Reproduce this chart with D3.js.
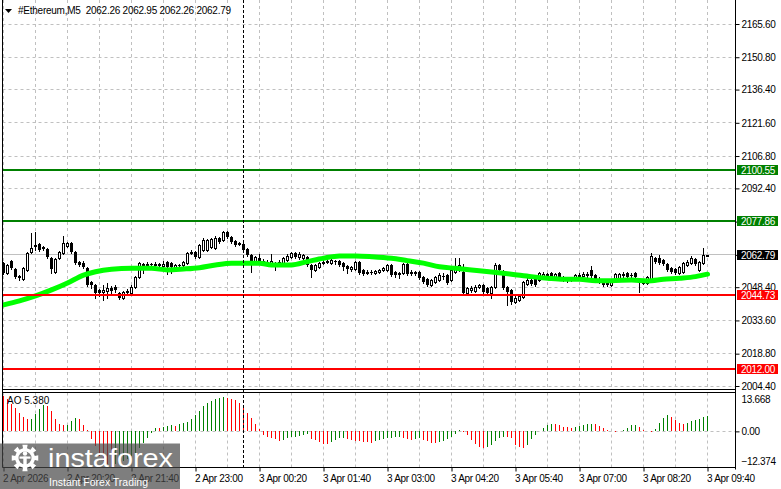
<!DOCTYPE html>
<html><head><meta charset="utf-8">
<script src="https://cdn.jsdelivr.net/npm/d3@7"></script>
<style>
html,body{margin:0;padding:0;background:#fff;overflow:hidden}
svg{display:block}
text{font-family:Tahoma,"Liberation Sans",Arial,sans-serif}
</style></head><body>
<svg id="c" width="781" height="489"></svg>
<script>
// ---------------- DATA ----------------
const symbolTitle = "#Ethereum,M5";
const headerOHLC = [2062.26, 2062.95, 2062.26, 2062.79];

const opens = [2059.2,2054.7,2060.1,2056.5,2053.4,2052.1,2056.1,2064.1,2067.2,2067.6,2066.3,2065.4,2061.4,2055.2,2061.4,2063.6,2066.7,2068.1,2064.1,2059.6,
2059.2,2057.0,2050.7,2049.4,2047.2,2046.3,2046.7,2048.1,2048.5,2045.8,2043.6,2046.3,2045.8,2048.5,2052.9,2058.3,2058.3,2058.7,2058.3,2058.7,
2057.9,2059.6,2059.2,2057.4,2058.3,2058.3,2059.2,2063.6,2064.1,2061.9,2065.0,2065.0,2066.3,2065.9,2070.3,2069.4,2073.0,2070.8,2069.0,2067.6,
2067.6,2065.4,2062.7,2059.6,2061.4,2060.1,2059.6,2059.2,2059.2,2059.2,2059.2,2060.5,2061.9,2063.6,2061.9,2061.4,2061.9,2058.3,2056.1,2057.4,
2059.2,2059.6,2059.2,2060.1,2060.1,2059.2,2057.9,2056.5,2056.5,2059.6,2056.1,2054.7,2055.2,2054.7,2055.2,2056.1,2056.1,2058.3,2055.2,2054.3,
2054.7,2058.7,2054.7,2055.2,2055.2,2052.9,2052.1,2049.4,2050.7,2051.6,2053.4,2053.8,2051.6,2055.2,2056.1,2055.2,2045.8,2047.2,2046.7,2048.5,
2049.4,2048.1,2045.8,2048.5,2058.3,2055.2,2048.5,2047.2,2041.8,2042.7,2044.0,2049.8,2051.6,2052.5,2051.6,2053.4,2054.3,2054.7,2052.9,2054.7,
2052.9,2051.6,2052.1,2052.5,2053.4,2053.4,2054.3,2056.1,2053.8,2051.6,2050.7,2049.8,2049.4,2052.1,2052.5,2053.8,2054.7,2053.8,2054.7,2051.6,
2050.3,2050.3,2051.6,2061.4,2061.4,2060.5,2058.7,2057.0,2056.5,2054.7,2055.2,2058.3,2059.2,2061.0,2056.1,2059.2,2062.26];

const highs = [2059.6,2058.7,2060.5,2057.0,2053.8,2057.4,2064.1,2072.5,2073.0,2068.1,2066.7,2065.9,2061.9,2061.4,2064.5,2071.2,2068.5,2068.5,2064.5,2060.1,
2060.1,2057.4,2051.2,2049.8,2047.6,2049.4,2050.3,2048.9,2049.4,2046.3,2046.7,2047.6,2049.4,2053.4,2059.6,2059.2,2059.6,2059.2,2059.6,2059.2,
2060.1,2060.1,2059.6,2058.7,2058.7,2060.1,2064.1,2065.0,2064.5,2067.6,2070.3,2069.9,2070.3,2071.2,2070.8,2073.4,2073.4,2071.2,2069.4,2068.5,
2068.5,2065.9,2063.2,2062.3,2063.2,2061.0,2060.5,2063.2,2059.6,2060.5,2061.9,2063.2,2064.1,2064.1,2064.1,2063.2,2062.3,2058.7,2058.7,2059.6,
2060.5,2061.0,2061.0,2060.5,2060.5,2059.6,2058.3,2057.9,2060.1,2060.1,2056.5,2056.1,2056.1,2056.1,2056.5,2057.4,2058.7,2058.7,2055.6,2055.2,
2059.2,2059.2,2056.1,2055.6,2055.6,2053.4,2052.5,2052.1,2053.4,2054.7,2054.7,2054.3,2056.5,2061.4,2061.4,2058.7,2048.5,2048.9,2049.4,2049.8,
2049.8,2048.5,2049.0,2059.2,2058.7,2056.1,2048.9,2047.6,2044.5,2045.4,2051.2,2052.5,2052.1,2052.9,2055.2,2055.2,2054.7,2055.2,2054.7,2055.2,
2053.4,2052.9,2052.9,2054.3,2054.7,2055.2,2055.2,2057.9,2054.3,2052.9,2051.2,2051.2,2051.2,2054.7,2054.7,2055.2,2055.2,2054.7,2055.2,2052.5,
2051.6,2053.4,2063.6,2061.9,2062.7,2061.0,2059.2,2057.4,2057.0,2057.9,2059.6,2060.5,2062.3,2061.4,2060.1,2065.9,2062.95];

const lows = [2054.3,2054.3,2056.5,2052.5,2051.6,2051.6,2055.6,2063.6,2065.0,2064.5,2065.0,2061.4,2054.7,2054.7,2061.0,2063.2,2066.3,2063.6,2058.7,2057.9,
2057.0,2048.9,2048.1,2043.6,2044.5,2042.7,2043.6,2044.9,2046.3,2043.2,2043.2,2045.8,2045.4,2048.1,2052.5,2054.7,2057.4,2057.4,2057.9,2057.0,
2057.0,2054.3,2054.7,2057.0,2057.4,2057.9,2058.7,2063.2,2061.4,2061.4,2064.5,2064.5,2065.9,2065.4,2068.1,2069.0,2070.3,2068.1,2066.7,2067.2,
2064.5,2062.3,2055.2,2059.2,2059.2,2058.3,2058.3,2058.7,2056.1,2058.7,2058.7,2060.1,2061.4,2061.4,2061.0,2061.0,2057.9,2052.9,2055.6,2057.0,
2058.7,2059.2,2058.7,2058.7,2057.9,2056.1,2054.7,2055.6,2056.1,2054.3,2053.8,2054.3,2054.3,2054.3,2054.7,2055.6,2055.6,2053.4,2052.9,2052.5,
2054.3,2053.8,2053.8,2053.8,2052.1,2050.3,2048.9,2048.9,2050.3,2051.2,2052.1,2049.8,2051.2,2054.7,2055.6,2045.4,2045.4,2046.3,2046.3,2048.1,
2045.8,2045.4,2043.6,2048.1,2055.6,2047.6,2040.5,2040.9,2041.4,2042.3,2043.6,2049.4,2049.4,2048.9,2051.2,2052.9,2052.9,2052.1,2052.5,2052.5,
2051.2,2050.7,2051.2,2052.1,2052.9,2052.9,2052.9,2052.9,2051.2,2050.3,2048.9,2048.9,2048.9,2051.6,2052.1,2052.9,2052.5,2052.9,2052.5,2046.3,
2049.8,2049.8,2051.2,2059.2,2058.7,2058.3,2055.6,2054.7,2054.3,2054.3,2054.7,2057.9,2058.7,2058.3,2055.6,2058.7,2062.26];

const closes = [2054.7,2058.3,2057.0,2052.9,2052.5,2057.0,2063.6,2065.9,2066.3,2065.0,2065.4,2061.9,2056.5,2061.0,2064.1,2068.1,2068.1,2064.1,2059.2,2058.3,
2057.4,2049.4,2049.4,2045.8,2045.8,2047.2,2048.1,2046.7,2047.2,2043.6,2046.3,2046.7,2048.5,2052.9,2059.2,2058.7,2058.7,2058.3,2058.7,2057.9,
2058.7,2057.4,2057.4,2058.3,2057.9,2059.6,2063.6,2064.1,2061.9,2067.2,2069.4,2069.4,2069.9,2070.3,2068.5,2073.0,2070.8,2068.5,2067.2,2068.1,
2065.0,2062.7,2059.6,2061.9,2060.1,2059.6,2059.2,2060.1,2058.7,2059.6,2061.4,2062.3,2063.6,2061.9,2063.2,2062.7,2058.3,2056.1,2058.3,2059.2,
2059.6,2060.1,2060.5,2059.6,2058.3,2057.4,2056.5,2057.4,2059.6,2054.7,2054.3,2055.2,2054.7,2055.6,2056.1,2057.0,2058.3,2053.8,2053.8,2054.7,
2058.7,2054.3,2055.2,2054.3,2052.5,2050.7,2049.4,2051.6,2052.9,2053.8,2052.9,2050.3,2056.1,2057.4,2058.3,2045.8,2048.1,2048.1,2048.5,2049.4,
2046.3,2045.8,2048.5,2058.3,2056.1,2048.1,2046.3,2041.8,2043.6,2044.5,2050.7,2051.6,2049.8,2049.4,2054.7,2054.3,2053.4,2052.5,2054.3,2052.9,
2051.6,2052.1,2051.6,2053.8,2053.8,2054.3,2053.4,2053.4,2051.6,2051.2,2049.4,2050.3,2050.7,2054.3,2054.3,2054.3,2052.9,2053.4,2052.9,2050.3,
2051.2,2052.9,2062.3,2059.6,2059.2,2058.7,2056.1,2055.2,2054.7,2057.4,2059.2,2059.6,2061.4,2058.7,2059.6,2062.7,2062.79];

// moving average (green line) read at sample bars
const maIndex  = [0,4,8,12,16,20,23,27,32,37,41,45,49,53,57,64,67,72,76,80,84,88,92,97,101,105,109,113,117,122,127,132,136,140,144,148,152,157,161,165,169,173,176];
const maValues = [2040.5,2042.3,2044.5,2047.2,2050.3,2053.8,2055.3,2056.4,2056.8,2056.8,2056.1,2056.5,2057.1,2058.3,2059.1,2059.1,2058.3,2058.3,2059.8,2061.3,2062.3,2062.3,2062.0,2061.3,2060.2,2059.1,2057.5,2056.8,2056.1,2055.2,2054.2,2053.1,2052.4,2051.9,2051.9,2051.3,2051.3,2051.6,2051.2,2051.9,2052.4,2053.1,2054.2];

// Awesome Oscillator
const aoValues = [12.3,11.1,9.4,8.2,6.5,5.0,4.2,4.3,6.1,7.6,9.1,8.8,7.1,4.4,2.7,2.2,2.3,3.6,4.5,4.2,
2.2,0.3,-2.8,-5.1,-8.6,-10.3,-11.5,-12.374,-11.5,-10.9,-10.3,-9.7,-8.6,-7.4,-5.7,-3.9,-2.2,-0.6,1.3,1.0,
1.5,1.9,2.2,1.9,2.7,2.8,3.4,4.4,5.7,7.1,8.8,9.7,10.5,11.2,11.7,11.9,11.7,11.2,10.8,10.0,
9.1,6.5,4.7,2.4,0.7,-1.3,-2.0,-2.4,-2.8,-3.4,-3.1,-2.2,-2.0,-1.9,-1.6,-1.3,-1.0,-2.8,-3.1,-3.6,
-4.3,-4.5,-3.6,-3.1,-2.4,-2.2,-2.8,-3.1,-3.3,-3.5,-3.6,-3.8,-3.9,-3.4,-3.1,-2.6,-2.3,-2.2,-2.1,-2.0,
-2.3,-2.6,-2.9,-2.6,-2.4,-2.9,-3.5,-3.9,-4.1,-3.8,-3.3,-2.8,-2.0,-1.0,0.3,-0.2,-1.3,-3.1,-4.3,-5.4,
-5.7,-5.4,-4.7,-3.4,-2.2,-2.0,-2.1,-2.3,-4.8,-5.6,-5.9,-4.9,-2.8,-1.3,0.1,1.0,2.2,2.7,2.6,2.2,
1.6,1.5,1.3,1.5,1.9,2.2,2.4,2.7,2.6,1.9,1.3,0.5,0.05,-0.05,0.1,0.5,1.3,2.1,2.2,1.5,
0.5,0.1,-0.1,0.9,3.0,4.7,5.7,5.1,3.9,3.0,2.7,3.0,3.6,3.9,4.4,5.0,5.38];
const aoLabel = "AO 5.380";
const aoTicks = [13.668, 0, -12.374];

const priceTicks = [2165.6,2150.8,2136.4,2121.6,2106.8,2092.4,2077.6,2062.8,2048.4,2033.6,2018.8,2004.4];
const timeLabels = ["2 Apr 2026","2 Apr 20:20","2 Apr 21:40","2 Apr 23:00","3 Apr 00:20","3 Apr 01:40","3 Apr 03:00","3 Apr 04:20","3 Apr 05:40","3 Apr 07:00","3 Apr 08:20","3 Apr 09:40"];
const timeLabelIndex = [0,16,32,48,64,80,96,112,128,144,160,176];
const gridIndex = [0,8,16,24,32,40,48,56,64,72,80,88,96,104,112,120,128,136,144,152,160,168,176];
const daySeparatorIndex = 60;

const greenLevels = [2100.55, 2077.86];
const redLevels = [2044.73, 2012.00];
const lastPrice = 2062.79;

// ---------------- LAYOUT ----------------
const L = 2.5, R = 735.5, mainBottom = 389.5, aoTop = 392.5, aoBottom = 467.5;
const GRID = "#c0c0c0", GREEN = "#008000", RED = "#ff0000";
const svg = d3.select("#c");
const x = d3.scaleLinear().domain([0, 176]).range([3.5, 707.5]);
const y = d3.scaleLinear().domain([2004.4, 2165.6]).range([386, 24]);
const yAO = d3.scaleLinear().domain([-12.374, 13.668]).range([467, 392]);
const snap = v => Math.round(v - 0.5) + 0.5;
const fmt2 = d3.format(".2f");

const defs = svg.append("defs");
defs.append("clipPath").attr("id","cm").append("rect").attr("x",3).attr("y",0).attr("width",R-3).attr("height",mainBottom);
defs.append("clipPath").attr("id","ca").append("rect").attr("x",3).attr("y",aoTop+0.5).attr("width",R-3).attr("height",aoBottom-aoTop-1);

// grid main
const gm = svg.append("g").attr("clip-path","url(#cm)");
gm.selectAll("line.hg").data(priceTicks).join("line")
  .attr("x1",L).attr("x2",R).attr("y1",d=>snap(y(d))).attr("y2",d=>snap(y(d)))
  .attr("stroke",GRID).attr("stroke-dasharray","3,3");
gm.selectAll("line.vg").data(gridIndex).join("line")
  .attr("x1",d=>x(d)).attr("x2",d=>x(d)).attr("y1",0).attr("y2",mainBottom)
  .attr("stroke",GRID).attr("stroke-dasharray","3,3");
// last price line
gm.append("line").attr("x1",L).attr("x2",R).attr("y1",snap(y(lastPrice))).attr("y2",snap(y(lastPrice))).attr("stroke",GRID);

// candles
const idx = d3.range(closes.length);
const cg = gm.append("g");
cg.selectAll("line.w").data(idx).join("line")
  .attr("x1",i=>x(i)).attr("x2",i=>x(i))
  .attr("y1",i=>Math.round(y(highs[i]))).attr("y2",i=>Math.round(y(lows[i]))+1)
  .attr("stroke","#000");
idx.forEach(i=>{
  const o=opens[i], c=closes[i];
  const top=Math.round(y(Math.max(o,c))), bot=Math.round(y(Math.min(o,c)));
  const xc=x(i);
  if (bot-top < 1) {
    cg.append("line").attr("x1",xc-1.5).attr("x2",xc+1.5).attr("y1",top+0.5).attr("y2",top+0.5).attr("stroke","#000");
  } else if (c>o) {
    cg.append("rect").attr("x",xc-1).attr("width",2).attr("y",top+0.5).attr("height",Math.max(bot-top,1))
      .attr("fill","#fff").attr("stroke","#000");
  } else {
    cg.append("rect").attr("x",xc-1.5).attr("width",3).attr("y",top).attr("height",Math.max(bot-top,1)).attr("fill","#000");
  }
});

// moving average
gm.append("path").datum(d3.zip(maIndex, maValues))
  .attr("d", d3.line().x(d=>x(d[0])).y(d=>y(d[1])).curve(d3.curveMonotoneX))
  .attr("fill","none").attr("stroke","#00ff00").attr("stroke-width",5).attr("stroke-linecap","round").attr("stroke-linejoin","round");

// level lines
gm.selectAll("line.gl").data(greenLevels).join("line")
  .attr("x1",L).attr("x2",R).attr("y1",d=>Math.round(y(d))).attr("y2",d=>Math.round(y(d))).attr("stroke",GREEN).attr("stroke-width",2);
gm.selectAll("line.rl").data(redLevels).join("line")
  .attr("x1",L).attr("x2",R).attr("y1",d=>Math.round(y(d))).attr("y2",d=>Math.round(y(d))).attr("stroke",RED).attr("stroke-width",2);

// AO panel
const ga = svg.append("g").attr("clip-path","url(#ca)");
ga.selectAll("line.vg").data(gridIndex).join("line")
  .attr("x1",d=>x(d)).attr("x2",d=>x(d)).attr("y1",aoTop).attr("y2",aoBottom)
  .attr("stroke",GRID).attr("stroke-dasharray","3,3");
ga.append("line").attr("x1",L).attr("x2",R).attr("y1",snap(yAO(0))).attr("y2",snap(yAO(0))).attr("stroke",GRID).attr("stroke-dasharray","3,3");
ga.selectAll("line.ao").data(idx).join("line")
  .attr("x1",i=>x(i)).attr("x2",i=>x(i))
  .attr("y1",Math.round(yAO(0))).attr("y2",i=>Math.round(yAO(aoValues[i])))
  .attr("stroke",i=> (i>0 && aoValues[i]>aoValues[i-1]) ? GREEN : RED);

// day separator
svg.append("line").attr("x1",x(daySeparatorIndex)).attr("x2",x(daySeparatorIndex)).attr("y1",0).attr("y2",aoBottom)
  .attr("stroke","#000").attr("stroke-dasharray","3,2");

// frames
const fr = svg.append("g").attr("stroke","#000").attr("fill","none");
fr.append("line").attr("x1",L).attr("x2",L).attr("y1",0).attr("y2",aoBottom);
fr.append("line").attr("x1",R).attr("x2",R).attr("y1",0).attr("y2",aoBottom+2);
fr.append("line").attr("x1",L).attr("x2",R).attr("y1",mainBottom).attr("y2",mainBottom);
fr.append("line").attr("x1",L).attr("x2",R).attr("y1",aoTop).attr("y2",aoTop);
fr.append("line").attr("x1",L).attr("x2",R).attr("y1",aoBottom).attr("y2",aoBottom);

// price axis
const pa = svg.append("g").attr("transform",`translate(${R},0)`)
  .call(d3.axisRight(y).tickValues(priceTicks).tickFormat(fmt2).tickSize(4).tickPadding(2).tickSizeOuter(0));
pa.select(".domain").remove();
pa.selectAll("text").style("font-family",'Tahoma,"Liberation Sans",Arial,sans-serif').style("font-size","10px").attr("fill","#000").style("letter-spacing","-0.3px");

// price boxes
const boxes = [...greenLevels.map(v=>({v,c:GREEN})), ...redLevels.map(v=>({v,c:RED})), {v:lastPrice,c:"#000"}];
const bg = svg.append("g");
bg.selectAll("rect").data(boxes).join("rect")
  .attr("x",737).attr("width",41).attr("y",d=>Math.round(y(d.v))-5).attr("height",10).attr("fill",d=>d.c);
bg.selectAll("text").data(boxes).join("text")
  .attr("x",741).attr("y",d=>Math.round(y(d.v))+4).text(d=>fmt2(d.v))
  .attr("fill","#fff").style("font-size","10px").style("letter-spacing","-0.3px");

// AO axis
const aa = svg.append("g").attr("transform",`translate(${R},0)`)
  .call(d3.axisRight(yAO).tickValues(aoTicks).tickFormat(d=> d===0 ? "0.00" : d3.format(".3f")(d)).tickSize(4).tickPadding(2).tickSizeOuter(0));
aa.select(".domain").remove();
aa.selectAll("text").style("font-family",'Tahoma,"Liberation Sans",Arial,sans-serif').style("font-size","10px").attr("fill","#000").style("letter-spacing","-0.3px");
aa.selectAll(".tick").filter(d=>d!==0).select("line").remove();
aa.selectAll(".tick").filter(d=>d>0).select("text").attr("transform","translate(0,7)");
aa.selectAll(".tick").filter(d=>d<0).select("text").attr("transform","translate(0,-6)");

// time axis
const ta = svg.append("g").attr("transform",`translate(0,${aoBottom})`)
  .call(d3.axisBottom(x).tickValues(timeLabelIndex).tickFormat((d,i)=>timeLabels[i]).tickSize(4).tickPadding(3).tickSizeOuter(0));
ta.select(".domain").remove();
ta.selectAll("text").style("font-family",'Tahoma,"Liberation Sans",Arial,sans-serif').style("font-size","10px")
  .attr("fill","#000").attr("text-anchor","start").attr("x",-1).style("letter-spacing","-0.3px");

// header
svg.append("path").attr("d","M5,9 L12,9 L8.5,13 Z").attr("fill","#000");
svg.append("text").attr("x",18).attr("y",14).style("font-size","10px").style("white-space","pre").style("letter-spacing","-0.25px")
  .text(symbolTitle + "  " + headerOHLC.map(fmt2).join(" "));
svg.append("text").attr("x",7).attr("y",404).style("font-size","10px").text(aoLabel);

// watermark
const wm = svg.append("g");
wm.append("rect").attr("x",0).attr("y",443.5).attr("width",180).attr("height",46).attr("fill","#474747").attr("opacity",0.7);
const gear = d3.range(16).map(k=>{const a=k*Math.PI/8 - Math.PI/16; const r = (k%2===0)?13:10; return [25+r*Math.cos(a), 458+r*Math.sin(a)];});
wm.append("path").attr("d", d3.line().curve(d3.curveLinearClosed)(gear.flatMap((p,k)=>{
  const a0=k*Math.PI/8 - Math.PI/16, a1=a0+Math.PI/8; const r=(k%2===0)?13.5:10;
  return [[25+r*Math.cos(a0),458+r*Math.sin(a0)],[25+r*Math.cos(a1),458+r*Math.sin(a1)]];
}))).attr("fill","#fff");
wm.append("circle").attr("cx",25).attr("cy",458).attr("r",6.5).attr("fill","#7a7a7a");
wm.append("circle").attr("cx",25).attr("cy",453.5).attr("r",2.2).attr("fill","#fff");
wm.append("rect").attr("x",23.3).attr("y",456.5).attr("width",3.4).attr("height",9).attr("fill","#fff");
wm.append("rect").attr("x",19.5).attr("y",456.5).attr("width",11).attr("height",2.2).attr("fill","#fff");
wm.append("text").attr("x",48).attr("y",467).attr("textLength",125).attr("lengthAdjust","spacingAndGlyphs")
  .style("font-family",'"Liberation Sans",Arial,sans-serif').style("font-size","25px").attr("fill","#fff").text("instaforex");
wm.append("text").attr("x",49).attr("y",486).attr("textLength",99).attr("lengthAdjust","spacingAndGlyphs")
  .style("font-family",'"Liberation Sans",Arial,sans-serif').style("font-size","11.5px").attr("fill","#fff").text("Instant Forex Trading");
</script>
</body></html>
